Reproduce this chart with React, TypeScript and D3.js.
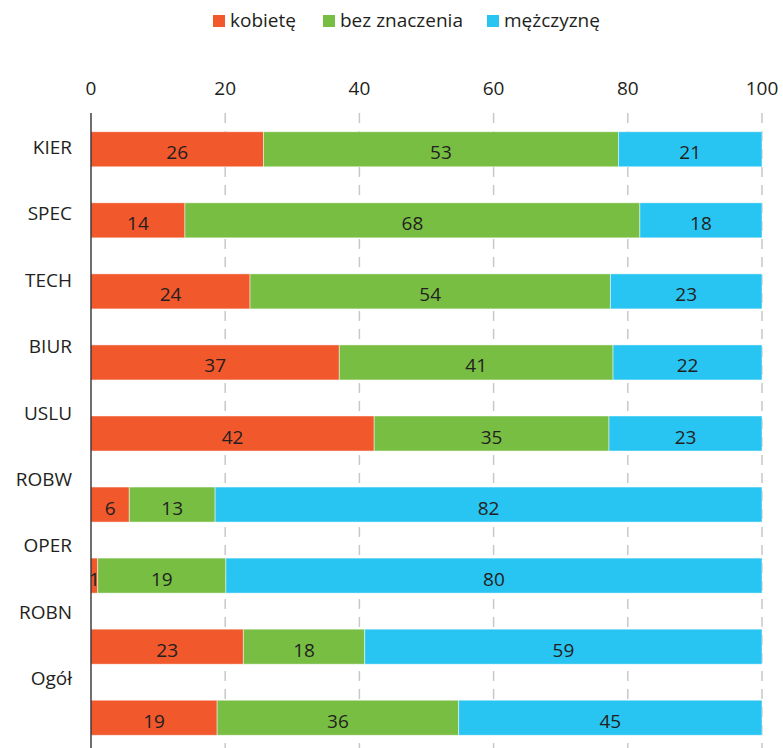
import React from "react";
import * as d3 from "d3";

const categories = ["KIER", "SPEC", "TECH", "BIUR", "USLU", "ROBW", "OPER", "ROBN", "Ogół"];
const seriesNames = ["kobietę", "bez znaczenia", "mężczyznę"];
const kobiete = [25.7, 14.0, 23.7, 37.0, 42.2, 5.7, 1.0, 22.7, 18.8];
const bezZnaczenia = [52.9, 67.8, 53.7, 40.8, 35.0, 12.8, 19.1, 18.1, 36.0];
const mezczyzne = [21.4, 18.2, 22.6, 22.2, 22.8, 81.5, 79.9, 59.2, 45.2];
const xTicks = [0, 20, 40, 60, 80, 100];
const colors = ["#F1582C", "#77BE43", "#28C4F2"];

const W = 783;
const H = 748;
const FONT = "'Open Sans', sans-serif";
const TEXT = "#231f20";

export default function App() {
  const x = d3.scaleLinear().domain([0, 100]).range([91, 762]);
  const yBars = d3
    .scaleBand<string>()
    .domain(categories)
    .range([114, 753])
    .paddingInner(0.507)
    .paddingOuter(0.25);
  const yLabels = d3
    .scalePoint<string>()
    .domain(categories)
    .range([147, 678]);

  const rows = categories.map((c, i) => ({
    cat: c,
    vals: [kobiete[i], bezZnaczenia[i], mezczyzne[i]],
  }));
  const stack = d3
    .stack<{ cat: string; vals: number[] }, number>()
    .keys([0, 1, 2])
    .value((d, k) => d.vals[k]);
  const layers = stack(rows);

  // legend layout
  const legendX = [213, 323, 487];

  return (
    <svg
      width={W}
      height={H}
      style={{ position: "absolute", left: 0, top: 0, background: "#fff" }}
      fontFamily={FONT}
    >
      {/* legend */}
      {seriesNames.map((n, i) => (
        <g key={n}>
          <rect x={legendX[i]} y={15} width={12} height={12} fill={colors[i]} />
          <text x={legendX[i] + 17} y={27} fontSize={19} fill={TEXT}>
            {n}
          </text>
        </g>
      ))}

      {/* grid lines */}
      {xTicks.map((t) => (
        <g key={t}>
          {t > 0 && (
            <line
              x1={x(t)}
              x2={x(t)}
              y1={113}
              y2={H}
              stroke="#c8c8c8"
              strokeWidth={1.5}
              strokeDasharray="10 8"
            />
          )}
          <text
            x={x(t)}
            y={95}
            textAnchor="middle"
            fontSize={19}
            fill={TEXT}
          >
            {t}
          </text>
        </g>
      ))}

      {/* bars */}
      {layers.map((layer, li) => (
        <g key={li} fill={colors[li]}>
          {layer.map((d) => (
            <rect
              key={d.data.cat}
              x={x(d[0])}
              y={yBars(d.data.cat)}
              width={x(d[1]) - x(d[0])}
              height={yBars.bandwidth()}
              stroke="#ffffff"
              strokeOpacity={0.6}
              strokeWidth={0.8}
            />
          ))}
        </g>
      ))}

      {/* value labels */}
      {layers.map((layer, li) => (
        <g key={"t" + li}>
          {layer.map((d) => (
            <text
              key={d.data.cat}
              x={(x(d[0]) + x(d[1])) / 2}
              y={(yBars(d.data.cat) as number) + yBars.bandwidth() / 2 + 10}
              textAnchor="middle"
              fontSize={19}
              fill={TEXT}
            >
              {Math.round(d[1] - d[0])}
            </text>
          ))}
        </g>
      ))}

      {/* axis line */}
      <line x1={x(0)} x2={x(0)} y1={113} y2={H} stroke="#231f20" strokeWidth={1.3} />

      {/* category labels */}
      {categories.map((c) => (
        <text
          key={c}
          x={72}
          y={(yLabels(c) as number) + 7}
          textAnchor="end"
          fontSize={19}
          fill={TEXT}
        >
          {c}
        </text>
      ))}
    </svg>
  );
}
